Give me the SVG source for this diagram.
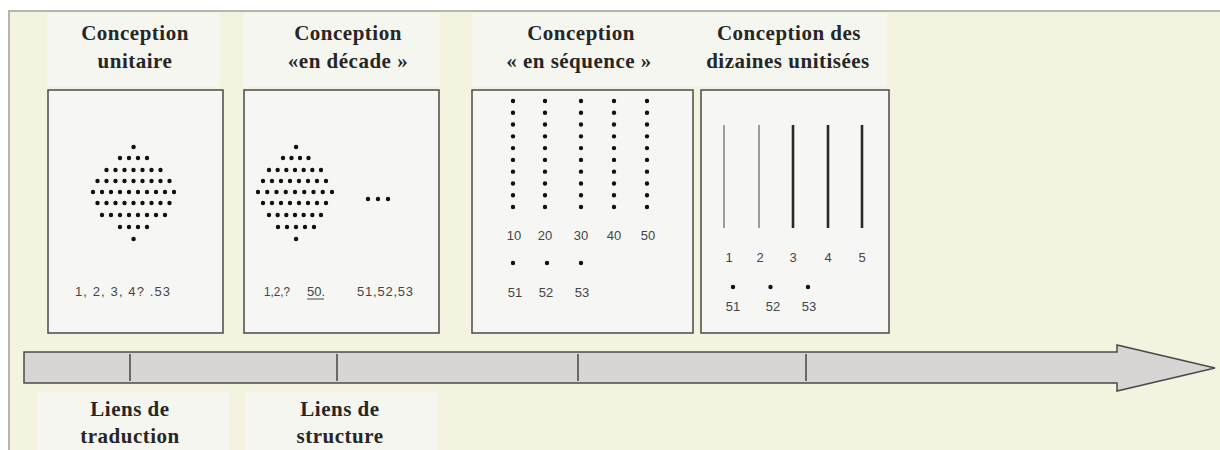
<svg xmlns="http://www.w3.org/2000/svg" width="1220" height="450" viewBox="0 0 1220 450">
<style>
.bg{fill:#f4f3df}
.hdr{fill:#f6f6f1}
.panel{fill:#f6f7f5;stroke:#4a4a4a;stroke-width:1.5}
.title{font-family:"Liberation Serif",serif;font-weight:bold;font-size:21px;letter-spacing:0.5px;fill:#262626;text-anchor:middle}
.num{font-family:"Liberation Sans",Arial,sans-serif;font-size:13px;fill:#444;text-anchor:middle}
.dots{stroke:#111;stroke-width:4.4;stroke-linecap:round;fill:none}
.tick{stroke:#444;stroke-width:1.5}
</style>
<rect x="0" y="0" width="1220" height="450" fill="#ffffff"/>
<rect class="bg" x="9" y="11" width="1211" height="439"/>
<path d="M9 450 V11 H1220" fill="none" stroke="#b5b5b5" stroke-width="2"/>

<g id="header-unitaire">
<rect class="hdr" x="47" y="13" width="173" height="74"/>
<text class="title" x="135" y="40">Conception</text>
<text class="title" x="135" y="68">unitaire</text>
</g>
<g id="header-decade">
<rect class="hdr" x="243" y="13" width="197" height="74"/>
<text class="title" x="348" y="40">Conception</text>
<text class="title" x="348" y="68">«en décade »</text>
</g>
<g id="header-sequence">
<rect class="hdr" x="472" y="13" width="218" height="74"/>
<text class="title" x="581" y="40">Conception</text>
<text class="title" x="579" y="68">« en séquence »</text>
</g>
<g id="header-dizaines">
<rect class="hdr" x="690" y="13" width="197" height="74"/>
<text class="title" x="789" y="40">Conception des</text>
<text class="title" x="788" y="68">dizaines unitisées</text>
</g>

<g id="panel-unitaire">
<rect class="panel" x="48" y="90" width="175" height="243"/>
<path class="dots" d="M133.5 147h0.1"/>
<path class="dots" stroke-dasharray="0 9" d="M120 158h27.1"/>
<path class="dots" stroke-dasharray="0 9" d="M106.5 170h54.1"/>
<path class="dots" stroke-dasharray="0 9" d="M97.5 181h72.1"/>
<path class="dots" stroke-dasharray="0 9" d="M93 192h81.1"/>
<path class="dots" stroke-dasharray="0 9" d="M97.5 203h72.1"/>
<path class="dots" stroke-dasharray="0 9" d="M102 215h63.1"/>
<path class="dots" stroke-dasharray="0 9" d="M120 227h27.1"/>
<path class="dots" d="M133.5 239h0.1"/>
<text class="num" x="75" y="296" style="text-anchor:start" textLength="95" lengthAdjust="spacing">1, 2, 3, 4? .53</text>
</g>

<g id="panel-decade">
<rect class="panel" x="244" y="90" width="195" height="243"/>
<path class="dots" d="M296 147h0.1"/>
<path class="dots" stroke-dasharray="0 8.5" d="M283 158h25.6"/>
<path class="dots" stroke-dasharray="0 8.667" d="M269 170h52.1"/>
<path class="dots" stroke-dasharray="0 9" d="M263 181h63.1"/>
<path class="dots" stroke-dasharray="0 9.25" d="M258 192h74.1"/>
<path class="dots" stroke-dasharray="0 9" d="M263 203h63.1"/>
<path class="dots" stroke-dasharray="0 8.667" d="M269 215h52.1"/>
<path class="dots" stroke-dasharray="0 9" d="M278 227h36.1"/>
<path class="dots" d="M296 239h0.1"/>
<path class="dots" stroke-dasharray="0 10" d="M368 199h20.1"/>
<text class="num" x="264" y="296" style="text-anchor:start" textLength="26" lengthAdjust="spacingAndGlyphs">1,2,?</text>
<text class="num" x="307" y="296" style="text-anchor:start">50.</text>
<line x1="307" y1="299" x2="324" y2="299" stroke="#444" stroke-width="1"/>
<text class="num" x="357" y="296" style="text-anchor:start" textLength="56" lengthAdjust="spacing">51,52,53</text>
</g>

<g id="panel-sequence">
<rect class="panel" x="472" y="90" width="221" height="243"/>
<path class="dots" stroke-dasharray="0 11.778" d="M513 101v106.1M545 101v106.1M581 101v106.1M614 101v106.1M647 101v106.1"/>
<text class="num" x="514" y="240">10</text>
<text class="num" x="545" y="240">20</text>
<text class="num" x="581" y="240">30</text>
<text class="num" x="614" y="240">40</text>
<text class="num" x="648" y="240">50</text>
<path class="dots" stroke-dasharray="0 34" d="M513 263h68.1"/>
<text class="num" x="515" y="297">51</text>
<text class="num" x="546" y="297">52</text>
<text class="num" x="582" y="297">53</text>
</g>

<g id="panel-dizaines">
<rect class="panel" x="701" y="90" width="188" height="243"/>
<line x1="724" y1="125" x2="724" y2="228" stroke="#8a8585" stroke-width="1.6"/>
<line x1="759" y1="125" x2="759" y2="228" stroke="#8a8585" stroke-width="1.6"/>
<line x1="793" y1="125" x2="793" y2="228" stroke="#2a2a2a" stroke-width="2.6"/>
<line x1="828" y1="125" x2="828" y2="228" stroke="#2a2a2a" stroke-width="2.6"/>
<line x1="862" y1="125" x2="862" y2="228" stroke="#2a2a2a" stroke-width="2.6"/>
<text class="num" x="729" y="262">1</text>
<text class="num" x="760" y="262">2</text>
<text class="num" x="793" y="262">3</text>
<text class="num" x="828" y="262">4</text>
<text class="num" x="862" y="262">5</text>
<path class="dots" stroke-dasharray="0 37.5" d="M733 287h75.1"/>
<text class="num" x="733" y="311">51</text>
<text class="num" x="773" y="311">52</text>
<text class="num" x="809" y="311">53</text>
</g>

<g id="connectors">
<g id="timeline">
<path d="M24 352 H1117 V345 L1215 368 L1117 391 V383 H24 Z" fill="#d9d5d5" stroke="#4a4a4a" stroke-width="1.5" stroke-linejoin="miter"/>
<line class="tick" x1="130" y1="354" x2="130" y2="381"/>
<line class="tick" x1="337" y1="354" x2="337" y2="381"/>
<line class="tick" x1="578" y1="354" x2="578" y2="381"/>
<line class="tick" x1="806" y1="354" x2="806" y2="381"/>
</g>
</g>

<g id="label-traduction">
<rect class="hdr" x="37" y="392" width="192" height="58"/>
<text class="title" x="130" y="416">Liens de</text>
<text class="title" x="130" y="443">traduction</text>
</g>
<g id="label-structure">
<rect class="hdr" x="245" y="392" width="193" height="58"/>
<text class="title" x="340" y="416">Liens de</text>
<text class="title" x="340" y="443">structure</text>
</g>
</svg>
